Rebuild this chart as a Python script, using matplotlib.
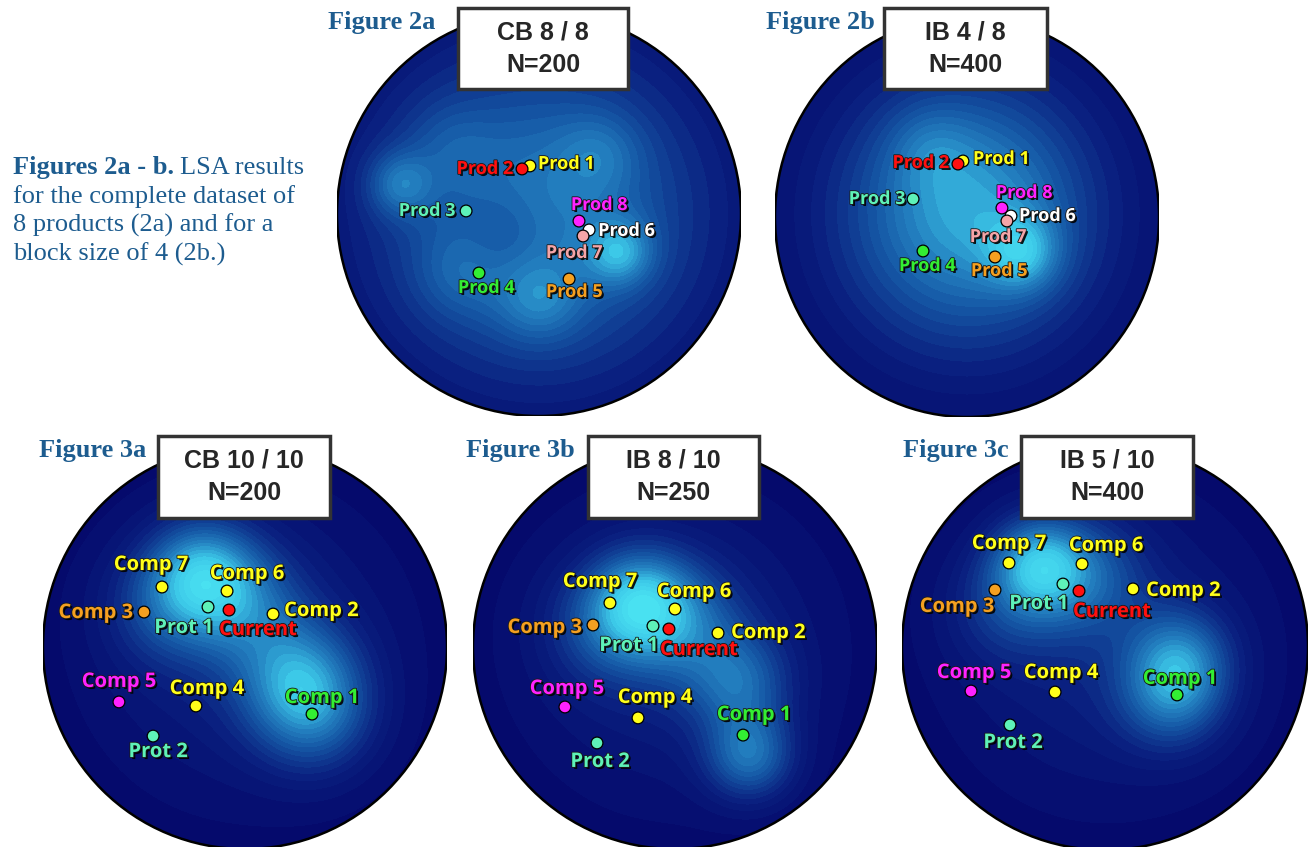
import numpy as np
import matplotlib
matplotlib.use('Agg')
import matplotlib.pyplot as plt
import matplotlib.patheffects as pe
from matplotlib.colors import LinearSegmentedColormap
from matplotlib.patches import Circle, Rectangle

W, H = 1309, 847

# ---- data (positions in map units, circle radius = 1) ----
prod_names = ['Prod 1', 'Prod 2', 'Prod 3', 'Prod 4', 'Prod 5', 'Prod 6', 'Prod 7', 'Prod 8']
prod_colors = ['#ffff1a', '#ff1010', '#5ef2b8', '#33ee33', '#f5a020', '#ffffff', '#f5a5a8', '#ff22ff']
prod_2a_x = [-0.045, -0.084, -0.361, -0.297, 0.149, 0.248, 0.218, 0.198]
prod_2a_y = [0.238, 0.223, 0.015, -0.292, -0.322, -0.079, -0.109, -0.035]
prod_2b_x = [-0.021, -0.047, -0.281, -0.229, 0.146, 0.229, 0.208, 0.182]
prod_2b_y = [0.280, 0.265, 0.090, -0.170, -0.200, 0.005, -0.020, 0.045]

comp_names = ['Comp 1', 'Comp 2', 'Comp 3', 'Comp 4', 'Comp 5', 'Comp 6', 'Comp 7',
              'Prot 1', 'Prot 2', 'Current']
comp_colors = ['#33ee33', '#ffff1a', '#f5a020', '#ffff1a', '#ff22ff', '#ffff1a', '#ffff1a',
               '#5ef2b8', '#5ef2b8', '#ff1010']
comp_3a_x = [0.332, 0.139, -0.500, -0.243, -0.624, -0.089, -0.411, -0.183, -0.455, -0.079]
comp_3a_y = [-0.332, 0.163, 0.173, -0.292, -0.272, 0.277, 0.297, 0.198, -0.441, 0.183]
comp_3b_x = [0.337, 0.213, -0.406, -0.183, -0.545, 0.000, -0.322, -0.109, -0.386, -0.030]
comp_3b_y = [-0.436, 0.069, 0.109, -0.351, -0.297, 0.188, 0.218, 0.104, -0.475, 0.089]
comp_3c_x = [0.355, 0.138, -0.542, -0.246, -0.660, -0.113, -0.473, -0.207, -0.468, -0.128]
comp_3c_y = [-0.236, 0.286, 0.281, -0.222, -0.217, 0.409, 0.414, 0.310, -0.384, 0.276]

# bright regions of the density map: (x, y, strength, spread)
glow_2a = [(-0.69, 0.15, 0.30, 0.11), (0.40, -0.19, 0.35, 0.11), (0.30, 0.30, 0.15, 0.14),
           (0.00, -0.43, 0.20, 0.14), (-0.40, -0.30, 0.12, 0.15), (-0.18, -0.09, -0.12, 0.15),
           (-0.45, 0.35, 0.10, 0.15)]
glow_2b = [(0.00, 0.05, 0.30, 0.38), (0.29, -0.18, 0.35, 0.13), (-0.20, 0.35, 0.12, 0.15)]
glow_3a = [(-0.21, 0.37, 0.55, 0.18), (-0.40, 0.20, 0.25, 0.20), (0.00, 0.20, 0.30, 0.20),
           (0.27, -0.16, 0.45, 0.20), (0.35, -0.35, 0.30, 0.20)]
glow_3b = [(-0.17, 0.23, 0.55, 0.17), (-0.35, 0.10, 0.25, 0.20), (0.05, 0.10, 0.30, 0.20),
           (0.32, -0.18, 0.35, 0.17), (0.37, -0.54, 0.45, 0.15)]
glow_3c = [(-0.33, 0.41, 0.55, 0.16), (-0.10, 0.35, 0.30, 0.20), (0.37, -0.06, 0.40, 0.17),
           (0.33, -0.25, 0.35, 0.18), (-0.50, 0.20, 0.20, 0.20)]

box_titles = ['CB 8 / 8', 'IB 4 / 8', 'CB 10 / 10', 'IB 8 / 10', 'IB 5 / 10']
box_n = ['N=200', 'N=400', 'N=200', 'N=250', 'N=400']
fig_labels = ['Figure 2a', 'Figure 2b', 'Figure 3a', 'Figure 3b', 'Figure 3c']

# ---- layout / style ----
# panel circle: centre x, centre y, radius x, radius y (pixels)
circ_px = [(539, 214, 202, 202), (967, 217, 192, 200), (245, 647, 202, 202),
           (675, 647, 202, 202), (1105, 647, 203, 203)]
box_px = [(458, 8, 628, 89), (884, 8, 1047, 89), (158, 436, 330, 518),
          (588, 436, 759, 518), (1021, 436, 1193, 518)]
figlab_px = [(328, 29), (766, 29), (39, 457), (466, 457), (903, 457)]
base_glow = [(0.58, 0.85), (0.42, 0.78), (0.20, 0.70), (0.20, 0.70), (0.20, 0.70)]
label_size = [13, 13, 14.5, 14.5, 14.5]

# label offsets (px) and alignment
off_2a = [(8, 2, 'left'), (-9, 0, 'right'), (-11, 0, 'right'), (7, -15, 'center'),
          (5, -13, 'center'), (9, -1, 'left'), (-9, -17, 'center'), (20, 16, 'center')]
off_2b = [(10, 2, 'left'), (-9, 1, 'right'), (-8, 0, 'right'), (4, -15, 'center'),
          (4, -14, 'center'), (8, 0, 'left'), (-9, -16, 'center'), (22, 15, 'center')]
off_3a = [(10, 16, 'center'), (11, 3, 'left'), (-11, -1, 'right'), (11, 17, 'center'),
          (0, 20, 'center'), (20, 17, 'center'), (-11, 22, 'center'), (-24, -21, 'center'),
          (5, -16, 'center'), (29, -20, 'center')]
off_3b = [(11, 20, 'center'), (13, 0, 'left'), (-11, -3, 'right'), (17, 20, 'center'),
          (2, 18, 'center'), (19, 17, 'center'), (-10, 21, 'center'), (-24, -20, 'center'),
          (3, -19, 'center'), (30, -21, 'center')]
off_3c = [(3, 16, 'center'), (13, -2, 'left'), (-38, -17, 'center'), (6, 19, 'center'),
          (3, 18, 'center'), (24, 18, 'center'), (0, 19, 'center'), (-24, -20, 'center'),
          (3, -18, 'center'), (33, -21, 'center')]

panels = [
    (prod_names, prod_colors, prod_2a_x, prod_2a_y, glow_2a, off_2a),
    (prod_names, prod_colors, prod_2b_x, prod_2b_y, glow_2b, off_2b),
    (comp_names, comp_colors, comp_3a_x, comp_3a_y, glow_3a, off_3a),
    (comp_names, comp_colors, comp_3b_x, comp_3b_y, glow_3b, off_3b),
    (comp_names, comp_colors, comp_3c_x, comp_3c_y, glow_3c, off_3c),
]

cmap = LinearSegmentedColormap.from_list(
    'lsa', ['#04076a', '#0a2180', '#1350a0', '#2380c0', '#3cc8e8', '#4ae4f2'])
blue = '#1d5c8f'
label_fx = [pe.SimplePatchShadow(offset=(1.4, -1.4), shadow_rgbFace='black', alpha=0.9),
            pe.Stroke(linewidth=1.2, foreground='#1a1a1a'), pe.Normal()]

fig = plt.figure(figsize=(W / 100, H / 100), dpi=100)

grid = np.linspace(-1, 1, 400)
GX, GY = np.meshgrid(grid, grid)

for i, (names, colors, xs, ys, glows, offs) in enumerate(panels):
    cx, cy, rx, ry = circ_px[i]
    ax = fig.add_axes([(cx - rx) / W, 1 - (cy + ry) / H, 2 * rx / W, 2 * ry / H])
    ax.set_xlim(-1, 1)
    ax.set_ylim(-1, 1)
    ax.axis('off')

    amp, wid = base_glow[i]
    Z = amp * np.exp(-(GX ** 2 + GY ** 2) / wid ** 2)
    for gx, gy, a, s in glows:
        Z += a * np.exp(-((GX - gx) ** 2 + (GY - gy) ** 2) / (2 * s ** 2))
    Z = np.clip(Z, 0, 1)
    clip = Circle((0, 0), 1, transform=ax.transData)
    cs = ax.contourf(GX, GY, Z, levels=np.linspace(0, 1, 24), cmap=cmap)
    cs.set_clip_path(clip)
    ax.add_patch(Circle((0, 0), 1, fill=False, ec='black', lw=1.8, zorder=3))

    ax.scatter(xs, ys, s=72, c=colors, edgecolors='black', linewidths=0.9, zorder=5)
    for name, col, x, y, (dx, dy, ha) in zip(names, colors, xs, ys, offs):
        ax.annotate(name, (x, y), xytext=(dx, dy), textcoords='offset pixels',
                    ha=ha, va='center', fontsize=label_size[i], fontweight='bold',
                    family='Open Sans', color=col, path_effects=label_fx, zorder=6)

# overlay for boxes, figure labels and caption (pixel coordinates)
ov = fig.add_axes([0, 0, 1, 1], zorder=10)
ov.set_xlim(0, W)
ov.set_ylim(H, 0)
ov.axis('off')
ov.patch.set_alpha(0)

for i in range(5):
    x0, y0, x1, y1 = box_px[i]
    ov.add_patch(Rectangle((x0 + 2, y0 + 2), x1 - x0, y1 - y0, fc='#555555', ec='none', alpha=0.5))
    ov.add_patch(Rectangle((x0, y0), x1 - x0, y1 - y0, fc='white', ec='#333333', lw=2.5))
    mx, my = (x0 + x1) / 2, (y0 + y1) / 2
    ov.text(mx, my - 16, box_titles[i], ha='center', va='center', fontsize=18,
            fontweight='bold', family='Liberation Sans', color='#262626')
    ov.text(mx, my + 16, box_n[i], ha='center', va='center', fontsize=18,
            fontweight='bold', family='Liberation Sans', color='#262626')
    lx, ly = figlab_px[i]
    ov.text(lx, ly, fig_labels[i], ha='left', va='baseline', fontsize=19,
            fontweight='bold', family='Liberation Serif', color=blue)

# caption
cap_lines = ['for the complete dataset of', '8 products (2a) and for a', 'block size of 4 (2b.)']
t = ov.text(13, 174, 'Figures 2a - b.', ha='left', va='baseline', fontsize=19,
            fontweight='bold', family='Liberation Serif', color=blue)
renderer = fig.canvas.get_renderer()
bb = t.get_window_extent(renderer)
ov.text(bb.x1 + 6, 174, 'LSA results', ha='left', va='baseline', fontsize=19,
        family='Liberation Serif', color=blue)
for k, line in enumerate(cap_lines):
    ov.text(13, 203 + 29 * k, line, ha='left', va='baseline', fontsize=19,
            family='Liberation Serif', color=blue)

fig.savefig('out.png', dpi=100)
